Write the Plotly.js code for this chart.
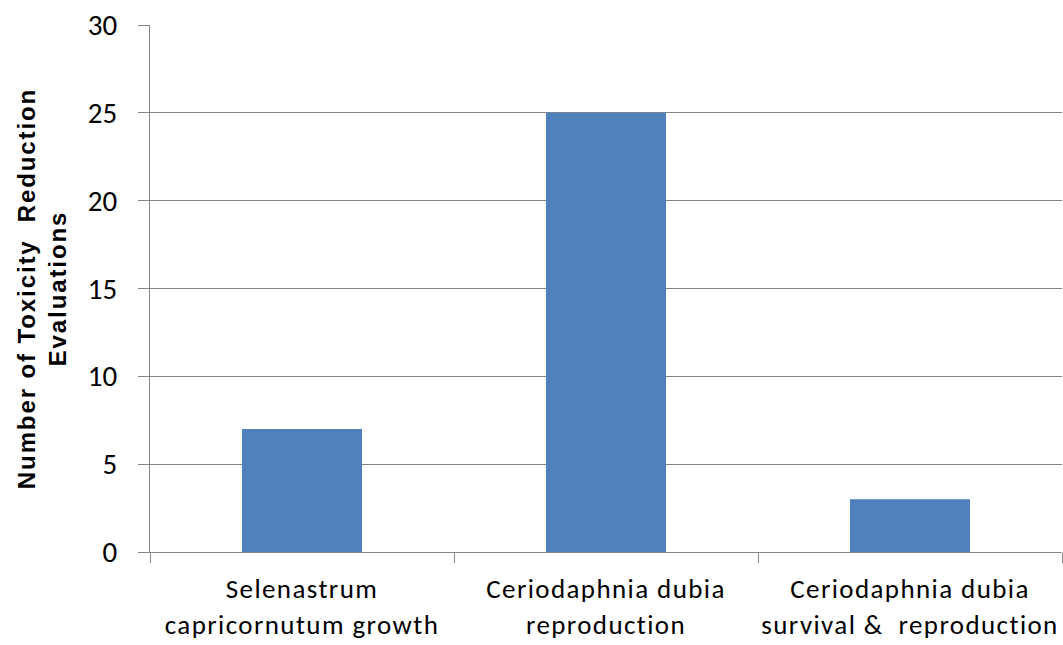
<!DOCTYPE html>
<html>
<head>
<meta charset="utf-8">
<script src="https://cdn.plot.ly/plotly-3.0.1.min.js"></script>
<style>
html,body{margin:0;padding:0;background:#fff;}
#chart{width:1063px;height:645px;}
#chart .xtick text{letter-spacing:1.4px;}
#chart .ytitle{letter-spacing:1.9px;}
</style>
</head>
<body>
<div id="chart"></div>
<script>
var categories = ["Selenastrum<br>capricornutum growth", "Ceriodaphnia dubia<br>reproduction", "Ceriodaphnia dubia<br>survival &amp;  reproduction"];
var values = [7, 25, 3];
var yTickVals = [0, 5, 10, 15, 20, 25, 30];
var yTitle = "Number of Toxicity  Reduction<br>Evaluations";

var fontFam = "Carlito, 'Liberation Sans', 'Open Sans', sans-serif";
var titleFam = "'Liberation Sans', Arial, sans-serif";
Plotly.newPlot("chart", [{
  type: "bar",
  x: categories,
  y: values,
  marker: {color: "#4F81BD", line: {width: 0}},
  hoverinfo: "none"
}], {
  width: 1063, height: 645,
  margin: {l: 150, r: 1, t: 25, b: 93},
  paper_bgcolor: "#fff", plot_bgcolor: "#fff",
  bargap: 0.605,
  showlegend: false,
  font: {family: fontFam, color: "#000"},
  xaxis: {
    type: "category",
    tickson: "boundaries",
    ticks: "outside", ticklen: 10, tickcolor: "#868686", tickwidth: 1,
    showline: true, linecolor: "#868686", linewidth: 1,
    showgrid: false, zeroline: false,
    tickfont: {size: 27, family: fontFam, color: "#000"},
    ticklabelstandoff: 13,
    fixedrange: true
  },
  yaxis: {
    range: [0, 30],
    tickvals: yTickVals,
    ticks: "outside", ticklen: 11, tickcolor: "#868686", tickwidth: 1,
    showline: true, linecolor: "#868686", linewidth: 1,
    showgrid: true, gridcolor: "#868686", gridwidth: 1,
    zeroline: false,
    tickfont: {size: 29, family: fontFam, color: "#000"},
    ticklabelstandoff: 15,
    title: {text: yTitle, font: {size: 24, family: titleFam, color: "#000", weight: "bold"}, standoff: 14},
    fixedrange: true
  }
}, {displayModeBar: false, staticPlot: true});
</script>
</body>
</html>
